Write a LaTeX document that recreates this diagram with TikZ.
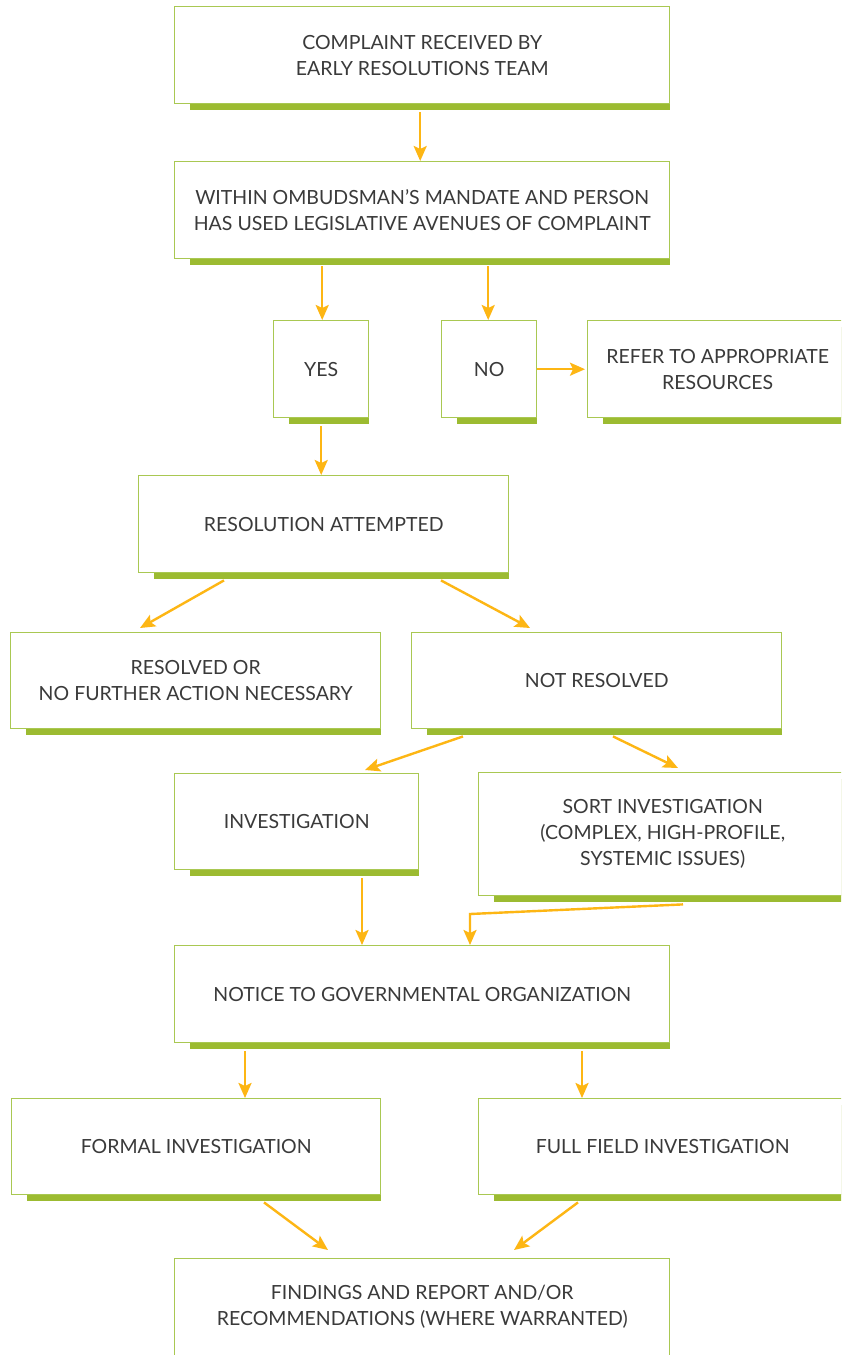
\documentclass[tikz,border=0pt]{standalone}
\usepackage{fontspec}
\setmainfont{Lato}
\usetikzlibrary{arrows.meta,calc}
\definecolor{boxgreen}{HTML}{A9C852}
\definecolor{shadegreen}{HTML}{9CBB31}
\definecolor{arrowgold}{HTML}{FDB614}
\definecolor{txtgray}{HTML}{3A3A3A}
\tikzset{
  flowbox/.style={draw=boxgreen, line width=1.4pt, fill=white, inner sep=0pt,
    anchor=north west, align=center, text=txtgray,
    font=\fontsize{19.5}{26}\selectfont},
  arr/.style={draw=arrowgold, line width=2.4pt,
    -{Stealth[length=15pt,width=13pt,inset=3pt]}},
}
\newcommand\flowbox[6]{%
  \fill[shadegreen] (#2+16,#3+7) rectangle (#4+1,#5+7);
  \node[flowbox, minimum width={(#4)-(#2)}, minimum height={(#5)-(#3)}] (#1) at (#2,#3) {#6};
}
\begin{document}
\begin{tikzpicture}[x=1pt,y=-1pt]
\useasboundingbox (0,0) rectangle (841,1355);
\clip (0,0) rectangle (841,1355);
\fill[white] (0,0) rectangle (841,1355);

\flowbox{c1}{174}{6}{669}{103}{COMPLAINT RECEIVED BY\\EARLY RESOLUTIONS TEAM}
\flowbox{c2}{174}{161}{669}{258}{WITHIN OMBUDSMAN’S MANDATE AND PERSON\\HAS USED LEGISLATIVE AVENUES OF COMPLAINT}
\flowbox{yes}{273}{320}{368}{417}{YES}
\flowbox{no}{441}{320}{536}{417}{NO}
\flowbox{refer}{587}{320}{847}{417}{REFER TO APPROPRIATE\\RESOURCES}
\flowbox{res}{138}{475}{508}{572}{RESOLUTION ATTEMPTED}
\flowbox{resolved}{10}{632}{380}{728}{RESOLVED OR\\NO FURTHER ACTION NECESSARY}
\flowbox{notres}{411}{632}{781}{728}{NOT RESOLVED}
\flowbox{inv}{174}{773}{418}{869}{INVESTIGATION}
\flowbox{sort}{478}{772}{846}{895}{SORT INVESTIGATION\\(COMPLEX, HIGH-PROFILE,\\SYSTEMIC ISSUES)}
\flowbox{notice}{174}{945}{669}{1042}{NOTICE TO GOVERNMENTAL ORGANIZATION}
\flowbox{formal}{11}{1098}{380}{1194}{FORMAL INVESTIGATION}
\flowbox{full}{478}{1098}{846}{1194}{FULL FIELD INVESTIGATION}
\flowbox{find}{174}{1258}{669}{1355}{FINDINGS AND REPORT AND/OR\\RECOMMENDATIONS (WHERE WARRANTED)}

\draw[arr] ($(c1.south)+(-2,8)$) -- ($(c2.north)+(-2,0)$);
\draw[arr] ($(c2.south -| yes.north)+(1,7)$) -- ($(yes.north)+(1,0)$);
\draw[arr] ($(c2.south -| no.north)+(-1,7)$) -- ($(no.north)+(-1,0)$);
\draw[arr] (no.east) -- ($(refer.west)+(-2,0)$);
\draw[arr] ($(yes.south)+(0,8)$) -- (yes.south |- res.north);
\draw[arr] ($(res.south west)+(86,7)$) -- ($(resolved.north west)+(130,-4)$);
\draw[arr] ($(res.south west)+(303,7)$) -- ($(notres.north west)+(119,-4)$);
\draw[arr] ($(notres.south west)+(52,7)$) -- ($(inv.north west)+(191,-3)$);
\draw[arr] ($(notres.south west)+(202,7)$) -- ($(sort.north west)+(200,-4)$);
\draw[arr] ($(inv.south west)+(188,8)$) -- ($(notice.north west)+(188,0)$);
\draw[arr] ($(sort.south west)+(205,8)$) -- ($(notice.north west)+(296,-31)$) -- ($(notice.north west)+(296,0)$);
\draw[arr] ($(notice.south west)+(71,8)$) -- ($(formal.north west)+(234,0)$);
\draw[arr] ($(notice.south west)+(408,8)$) -- ($(full.north west)+(104,0)$);
\draw[arr] ($(formal.south west)+(253,7)$) -- ($(find.north west)+(154,-8)$);
\draw[arr] ($(full.south west)+(100,7)$) -- ($(find.north west)+(340,-8)$);
\end{tikzpicture}
\end{document}
